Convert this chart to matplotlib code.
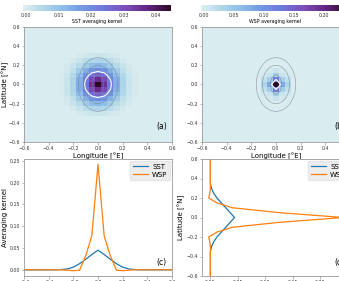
import numpy as np
import matplotlib
matplotlib.use("Agg")
import matplotlib.pyplot as plt
from matplotlib.colors import LinearSegmentedColormap
from matplotlib.patches import Ellipse

# ---------------- data ----------------
grid = [-0.6, -0.55, -0.5, -0.45, -0.4, -0.35, -0.3, -0.25, -0.2, -0.15, -0.1, -0.05,
        0.0, 0.05, 0.1, 0.15, 0.2, 0.25, 0.3, 0.35, 0.4, 0.45, 0.5, 0.55, 0.6]

sst_lon = [0, 0, 0, 0, 0, 0, 0.0005, 0.002, 0.006, 0.014, 0.024, 0.035,
           0.045, 0.035, 0.024, 0.014, 0.006, 0.002, 0.0005, 0, 0, 0, 0, 0, 0]
wsp_lon = [0, 0, 0, 0, 0, 0, 0, -0.001, -0.002, -0.001, 0.032, 0.078,
           0.242, 0.078, 0.032, -0.001, -0.002, -0.001, 0, 0, 0, 0, 0, 0, 0]
sst_lat = [0, 0, 0, 0, 0, 0, 0.002, 0.006, 0.012, 0.020, 0.028, 0.036,
           0.044, 0.036, 0.028, 0.020, 0.012, 0.006, 0.002, 0, 0, 0, 0, 0, 0]
wsp_lat = [0, 0, 0, 0, 0, 0, 0, -0.001, -0.003, 0.012, 0.040, 0.125,
           0.242, 0.125, 0.040, 0.012, -0.003, -0.001, 0, 0, 0, 0, 0, 0, 0]

# footprint ellipses (semi-axes lon, lat in degrees)
ellipse_lon = [0.045, 0.11, 0.16]
ellipse_lat = [0.10, 0.20, 0.28]

series_names = ["SST", "WSP"]
cbar_labels = ["SST averaging kernel", "WSP averaging kernel"]
panel_labels = ["(a)", "(b)", "(c)", "(d)"]

# ---------------- build maps ----------------
g = np.array(grid)
X, Y = np.meshgrid(g, g)
R = np.hypot(X, Y)
Wx = np.where(R > 0, X**2 / np.where(R > 0, R**2, 1), 0.5)
sst_map = (Wx * np.interp(R, g, np.array(sst_lon))
           + (1 - Wx) * np.interp(R, g, np.array(sst_lat)))
wsp_map = np.outer(np.array(wsp_lat), np.array(wsp_lon)) / max(wsp_lon)

dense = LinearSegmentedColormap.from_list("dense", [
    (0.00, "#e0eff1"), (0.12, "#b6dae8"), (0.26, "#90bfe7"), (0.40, "#7299e3"),
    (0.55, "#7077dc"), (0.70, "#7c4cb8"), (0.84, "#652583"), (1.00, "#2b0a24")])

W, H = 339, 281
fig = plt.figure(figsize=(W / 100, H / 100), dpi=100)

def px(l, t, r, b):
    return [l / W, 1 - b / H, (r - l) / W, (b - t) / H]

TICK = 3.4
LAB = 5.0
spine_c = "#9a9a9a"

def style(ax):
    for s in ax.spines.values():
        s.set_color(spine_c)
        s.set_linewidth(0.6)
    ax.tick_params(labelsize=TICK, length=1.8, width=0.5, color=spine_c, pad=1.0,
                   labelcolor="#333333")

maps = [sst_map, wsp_map]
lefts = [24, 202]
vmins = [-0.001, -0.005]
for i, (m, L) in enumerate(zip(maps, lefts)):
    ax = fig.add_axes(px(L, 27, L + 148, 142))
    cax = fig.add_axes(px(L - 1, 5, L + 147, 11))
    pm = ax.pcolormesh(g, g, m, cmap=dense, shading="nearest",
                       vmin=vmins[i], vmax=m.max())
    ax.contour(g, g, m, levels=[0.5 * m.max()], colors="white", linewidths=0.8)
    for a, b in zip(ellipse_lon, ellipse_lat):
        ax.add_patch(Ellipse((0, 0), 2 * a, 2 * b, fill=False, ec="#7a8a99",
                             lw=0.45, alpha=0.8))
    ax.set_xlim(-0.6, 0.6)
    ax.set_ylim(-0.6, 0.6)
    ax.set_xticks(np.arange(-0.6, 0.61, 0.2))
    ax.set_yticks(np.arange(-0.6, 0.61, 0.2))
    style(ax)
    ax.set_xlabel("Longitude [°E]", fontsize=LAB, labelpad=1)
    if i == 0:
        ax.set_ylabel("Latitude [°N]", fontsize=LAB)
        ax.yaxis.set_label_coords(-0.1, 0.5)
    ax.text(0.966, 0.135, panel_labels[i], transform=ax.transAxes, ha="right",
            va="center", fontsize=5.5)
    cb = fig.colorbar(pm, cax=cax, orientation="horizontal")
    cb.outline.set_visible(False)
    cb.ax.tick_params(labelsize=TICK, length=0, pad=1.5, labelcolor="#333333")
    cb.set_label(cbar_labels[i], fontsize=TICK, labelpad=1)
    cb.locator = matplotlib.ticker.MultipleLocator(0.01 if i == 0 else 0.05)
    cb.update_ticks()

colors = ["#1f77b4", "#ff7f0e"]
leg_kw = dict(loc="upper right", fontsize=5, facecolor="0.93", edgecolor="0.9",
              handlelength=2.2, borderpad=0.35, labelspacing=0.3, framealpha=1,
              borderaxespad=0.3, handletextpad=0.6)

# (c) longitude profiles
axc = fig.add_axes(px(24, 159, 172, 276))
axc.plot(g, sst_lon, color=colors[0], lw=0.9, label=series_names[0])
axc.plot(g, wsp_lon, color=colors[1], lw=0.9, label=series_names[1])
axc.set_xlim(-0.6, 0.6)
axc.set_xticks(np.arange(-0.6, 0.61, 0.2))
axc.set_yticks(np.arange(0, 0.26, 0.05))
style(axc)
axc.set_ylabel("Averaging kernel", fontsize=LAB)
axc.yaxis.set_label_coords(-0.105, 0.5)
axc.text(0.966, 0.115, panel_labels[2], transform=axc.transAxes, ha="right",
         va="center", fontsize=5.5)
axc.legend(**leg_kw)

# (d) latitude profiles
axd = fig.add_axes(px(202, 159, 350, 276))
axd.plot(sst_lat, g, color=colors[0], lw=0.9, label=series_names[0])
axd.plot(wsp_lat, g, color=colors[1], lw=0.9, label=series_names[1])
axd.set_ylim(-0.6, 0.6)
axd.set_yticks(np.arange(-0.6, 0.61, 0.2))
axd.set_xticks(np.arange(0, 0.21, 0.05))
style(axd)
axd.set_ylabel("Latitude [°N]", fontsize=LAB)
axd.yaxis.set_label_coords(-0.115, 0.5)
axd.text(0.966, 0.115, panel_labels[3], transform=axd.transAxes, ha="right",
         va="center", fontsize=5.5)
axd.legend(**leg_kw)

fig.savefig("out.png", dpi=100)
